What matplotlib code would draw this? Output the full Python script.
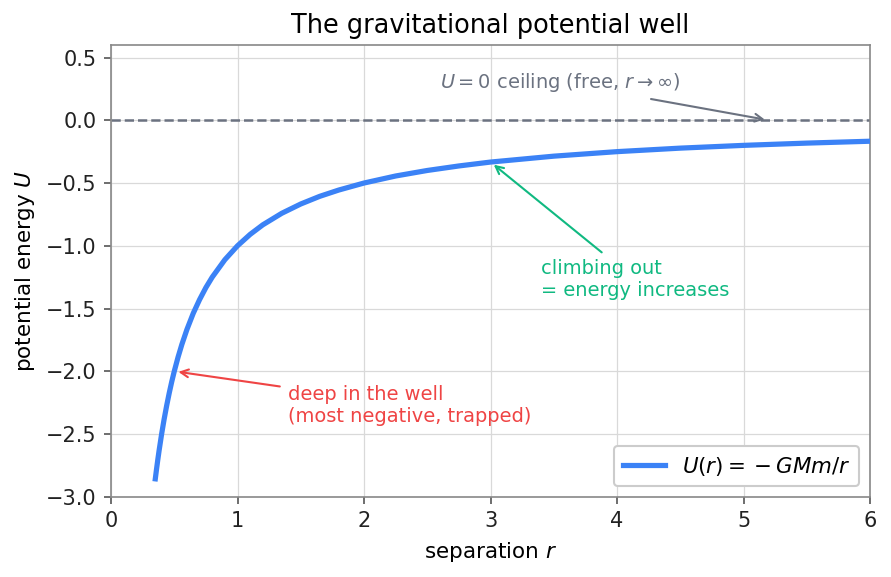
import matplotlib
matplotlib.use("Agg")
import matplotlib.pyplot as plt

# separation r and potential U(r)
r_vals = [0.35, 0.36, 0.37, 0.38, 0.40, 0.42, 0.44, 0.46, 0.48, 0.50, 0.53, 0.56,
          0.60, 0.65, 0.70, 0.75, 0.80, 0.90, 1.00, 1.10, 1.20, 1.35, 1.50, 1.65,
          1.80, 2.00, 2.25, 2.50, 2.75, 3.00, 3.50, 4.00, 4.50, 5.00, 5.50, 6.00]
U_vals = [-2.857, -2.778, -2.703, -2.632, -2.500, -2.381, -2.273, -2.174, -2.083,
          -2.000, -1.887, -1.786, -1.667, -1.538, -1.429, -1.333, -1.250, -1.111,
          -1.000, -0.909, -0.833, -0.741, -0.667, -0.606, -0.556, -0.500, -0.444,
          -0.400, -0.364, -0.333, -0.286, -0.250, -0.222, -0.200, -0.182, -0.167]

xticks = [0, 1, 2, 3, 4, 5, 6]
yticks = [-3.0, -2.5, -2.0, -1.5, -1.0, -0.5, 0.0, 0.5]

BLUE = "#3b82f6"
RED = "#ef4444"
GREEN = "#10b981"
GRAY = "#6b7280"

fig, ax = plt.subplots(figsize=(5.94, 3.847), dpi=150)
fig.subplots_adjust(left=0.1246, right=0.9765, top=0.922, bottom=0.139)

ax.plot(r_vals, U_vals, color=BLUE, lw=2.5, label=r"$U(r) = {}-GMm/r$", zorder=3)
ax.axhline(0, color=GRAY, ls="--", lw=1.2, zorder=2)

ax.set_xlim(0, 6)
ax.set_ylim(-3.0, 0.6)
ax.set_xticks(xticks)
ax.set_yticks(yticks)
ax.grid(True, color="#d9d9d9", lw=0.6)
ax.set_axisbelow(True)
for s in ax.spines.values():
    s.set_color("#888888")
ax.tick_params(colors="#555555", labelcolor="#222222", labelsize=10, length=3.5)

ax.set_title("The gravitational potential well", fontsize=12.3)
ax.set_xlabel(r"separation $r$", fontsize=10.3)
ax.set_ylabel(r"potential energy $U$", fontsize=10.3)

ax.annotate("deep in the well\n(most negative, trapped)", xy=(0.5, -2.0),
            xytext=(1.4, -2.27), va="center", ha="left", color=RED, fontsize=9.3,
            arrowprops=dict(arrowstyle="->", color=RED, lw=1.0))
ax.annotate("climbing out\n= energy increases", xy=(3.0, -1/3),
            xytext=(3.4, -1.27), va="center", ha="left", color=GREEN, fontsize=9.3,
            arrowprops=dict(arrowstyle="->", color=GREEN, lw=1.0))
ax.annotate(r"$U=0$ ceiling (free, $r\to\infty$)", xy=(5.2, 0.0),
            xytext=(2.6, 0.3), va="center", ha="left", color=GRAY, fontsize=9.3,
            arrowprops=dict(arrowstyle="->", color=GRAY, lw=1.0))

leg = ax.legend(loc="lower right", fontsize=10.25, framealpha=1)
leg.get_frame().set_edgecolor("#cccccc")

fig.savefig("out.png", dpi=150)
